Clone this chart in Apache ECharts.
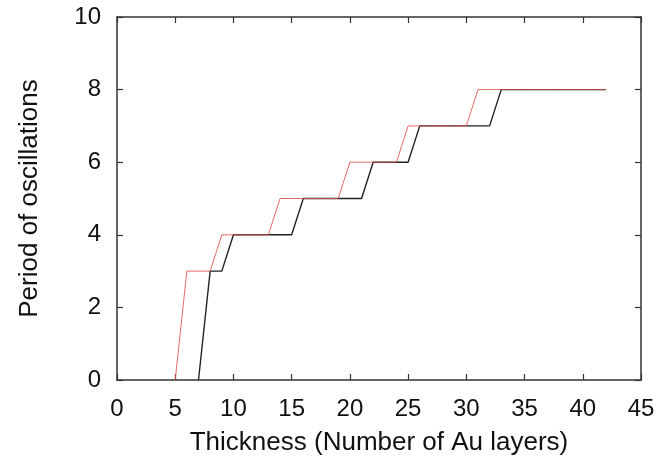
<!DOCTYPE html>
<html>
<head>
<meta charset="utf-8">
<script src="https://cdn.jsdelivr.net/npm/echarts@6/dist/echarts.min.js"></script>
<style>html,body{margin:0;padding:0;background:#fff}#c{width:660px;height:463px}</style>
</head>
<body>
<div id="c"></div>
<script>
// Thickness (number of Au layers)
var thickness = [5,6,7,8,9,10,11,12,13,14,15,16,17,18,19,20,21,22,23,24,25,26,27,28,29,30,31,32,33,34,35,36,37,38,39,40,41,42];
// Red curve: period of oscillations
var redPeriod = [0,3,3,3,4,4,4,4,4,5,5,5,5,5,5,6,6,6,6,6,7,7,7,7,7,7,8,8,8,8,8,8,8,8,8,8,8,8];
// Black curve: period of oscillations (starts at 7)
var blackPeriod = [null,null,0,3,3,4,4,4,4,4,4,5,5,5,5,5,5,6,6,6,6,7,7,7,7,7,7,7,8,8,8,8,8,8,8,8,8,8];
var xTicks = [0,5,10,15,20,25,30,35,40,45];
var yTicks = [0,2,4,6,8,10];

function pairs(xs, ys){
  var out = [];
  for (var i = 0; i < xs.length; i++) if (ys[i] !== null) out.push([xs[i], ys[i]]);
  return out;
}

var font = 'Liberation Sans, Arial, sans-serif';
var axisLine = {show:true, onZero:false, lineStyle:{color:'#333', width:1.5}};
var tick = {show:true, inside:true, length:6, lineStyle:{color:'#333', width:1.2}};
var chart = echarts.init(document.getElementById('c'), null, {renderer:'canvas'});
chart.setOption({
  animation:false,
  backgroundColor:'#fff',
  grid:{left:117, right:19, top:17, bottom:83, containLabel:false},
  xAxis:[{
    type:'value', min:xTicks[0], max:xTicks[xTicks.length-1], interval:5, position:'bottom',
    axisLine:axisLine, axisTick:tick, splitLine:{show:false},
    axisLabel:{color:'#111', fontSize:24, fontFamily:font, margin:17},
    name:'Thickness (Number of Au layers)', nameLocation:'middle', nameGap:50,
    nameTextStyle:{color:'#111', fontSize:26, fontFamily:font}
  },{
    type:'value', min:xTicks[0], max:xTicks[xTicks.length-1], interval:5, position:'top',
    axisLine:axisLine, axisTick:tick, splitLine:{show:false}, axisLabel:{show:false}
  }],
  yAxis:[{
    type:'value', min:yTicks[0], max:yTicks[yTicks.length-1], interval:2, position:'left',
    axisLine:axisLine, axisTick:tick, splitLine:{show:false},
    axisLabel:{color:'#111', fontSize:24, fontFamily:font, margin:16},
    name:'Period of oscillations', nameLocation:'middle', nameGap:74, nameRotate:90,
    nameTextStyle:{color:'#111', fontSize:26, fontFamily:font}
  },{
    type:'value', min:yTicks[0], max:yTicks[yTicks.length-1], interval:2, position:'right',
    axisLine:axisLine, axisTick:tick, splitLine:{show:false}, axisLabel:{show:false}
  }],
  series:[{
    type:'line', data:pairs(thickness, blackPeriod), showSymbol:false, symbol:'none',
    lineStyle:{color:'#222', width:1.4}, z:2
  },{
    type:'line', data:pairs(thickness, redPeriod), showSymbol:false, symbol:'none',
    lineStyle:{color:'#e0504a', width:1, opacity:0.85}, z:3
  }]
});
</script>
</body>
</html>
